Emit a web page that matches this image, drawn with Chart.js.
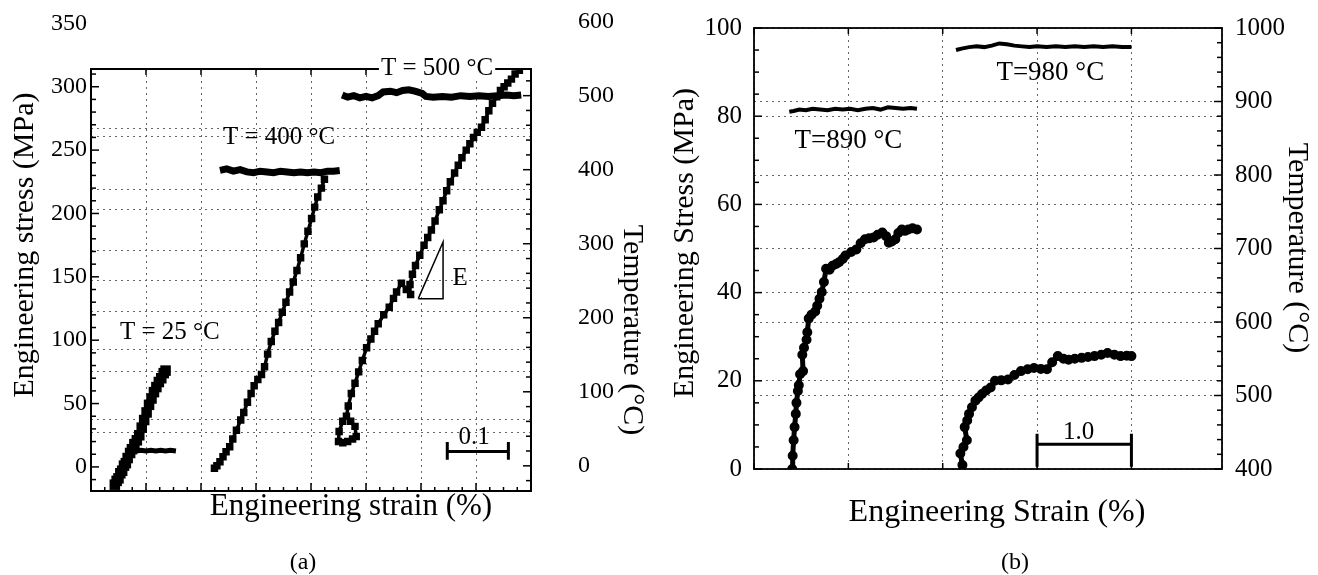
<!DOCTYPE html>
<html><head><meta charset="utf-8">
<script src="https://cdn.jsdelivr.net/npm/chart.js@4.4.1/dist/chart.umd.min.js"></script>
<style>
html,body{margin:0;padding:0;background:#fff;width:1318px;height:575px;overflow:hidden}
canvas{position:absolute;top:0}
#ca{left:0}
#cb{left:660px}
</style></head><body>
<canvas id="ca" width="660" height="575"></canvas>
<canvas id="cb" width="658" height="575"></canvas>
<script>
// ---------- Panel (a) data ----------
const a25Strain = [0.039,0.042,0.045,0.048,0.051,0.054,0.057,0.060,0.064,0.067,0.071,0.075,0.079,0.083,0.087,0.091,0.095,0.099,0.103,0.107,0.111,0.115,0.119,0.122];
const a25Stress = [-14,-11,-9,-5,-3,1,3,7,11,14,18,21,25,31,37,43,49,54,59,63,67,70,74,76];
const a25TStrain = [0.068,0.075,0.082,0.090,0.098,0.106,0.114,0.122,0.130,0.139];
const a25Temp = [21,20,21,20,21,20,21,20,21,20];

const a400Strain = [0.202,0.206,0.211,0.216,0.221,0.227,0.232,0.238,0.245,0.250,0.256,0.262,0.267,0.273,0.279,0.284,0.289,0.295,0.301,0.307,0.313,0.319,0.325,0.331,0.337,0.343,0.349,0.355,0.361,0.366,0.371,0.377,0.382];
const a400Stress = [-1,1,4,8,12,16,22,29,37,43,51,58,64,69,73,79,89,99,107,114,122,130,138,146,155,165,176,186,196,205,213,220,227];
const a400TStrain = [0.211,0.222,0.233,0.244,0.255,0.266,0.277,0.288,0.299,0.310,0.321,0.332,0.343,0.354,0.365,0.376,0.387,0.397,0.407];
const a400Temp = [399,401,398,400,397,396,398,397,396,398,397,396,397,396,397,396,398,398,399];

const a500Strain = [0.412,0.406,0.405,0.412,0.420,0.428,0.434,0.432,0.425,0.418,0.421,0.426,0.432,0.438,0.444,0.451,0.458,0.464,0.470,0.479,0.488,0.495,0.500,0.508,0.516,0.523,0.522,0.526,0.531,0.538,0.545,0.551,0.557,0.563,0.570,0.576,0.582,0.588,0.595,0.601,0.607,0.614,0.620,0.626,0.632,0.639,0.645,0.651,0.657,0.664,0.670,0.676,0.682,0.688,0.694,0.701];
const a500Stress = [36,28,20,19,20,22,24,32,36,40,48,58,66,75,84,94,101,107,113,120,126,133,138,145,140,136,144,152,159,167,175,181,187,194,203,210,218,225,232,238,244,250,255,260,264,268,274,281,287,292,297,300,303,306,310,313];
const a500TStrain = [0.411,0.420,0.430,0.440,0.450,0.460,0.470,0.478,0.490,0.500,0.510,0.520,0.530,0.542,0.548,0.560,0.575,0.590,0.605,0.620,0.635,0.650,0.665,0.680,0.692,0.704];
const a500Temp = [501,498,500,497,499,497,500,505,506,504,507,508,506,503,499,498,499,498,500,499,500,499,500,501,500,501];

const eTriStrain = [0.5355,0.5761,0.5761,0.5355];
const eTriStress = [132.8,177.5,132.8,132.8];
const barAStrain = [0.583,0.583,0.583,0.683,0.683,0.683];
const barAStress = [19.6,5.7,12.2,12.2,19.6,5.7];

const stressTicksA = [0,50,100,150,200,250,300,350];
const tempTicksA = [0,100,200,300,400,500,600];
const stressGridA = [27,75,123,171,219,267];
const tempGridA = [63,157,251,346,445];

// ---------- Panel (b) data ----------
const b890Strain = [0.405,0.41,0.42,0.43,0.443,0.45,0.465,0.475,0.488,0.52,0.512,0.53,0.557,0.565,0.58,0.61,0.649,0.67,0.694,0.718,0.741,0.764,0.80,0.832,0.87,0.901,0.94,0.97,1.03,1.085,1.13,1.176,1.22,1.268,1.31,1.36,1.40,1.429,1.46,1.498,1.53,1.567,1.60,1.636,1.68,1.727];
const b890Stress = [0,3,6.5,9.5,12.5,15,17.7,19,21.5,22.2,25.9,27.5,29.3,31,34.1,35,35.7,37,38.6,40.1,42.4,45.4,45.2,46.1,46.5,46.9,47.6,48.4,49.2,49.8,51.2,52.1,52.3,52.5,53.1,53.6,52.8,51.3,51.6,52.1,53.5,54.3,54,54.3,54.6,54.3];
const b890TStrain = [0.374,0.42,0.48,0.55,0.62,0.70,0.78,0.86,0.94,1.02,1.10,1.18,1.26,1.34,1.42,1.50,1.58,1.66,1.727];
const b890Temp = [886,887,889,888,890,889,888,890,889,890,888,890,891,889,892,891,890,891,890];

const b980Strain = [2.209,2.187,2.22,2.256,2.233,2.26,2.279,2.31,2.347,2.38,2.416,2.46,2.508,2.554,2.62,2.691,2.76,2.829,2.90,2.967,3.04,3.105,3.16,3.22,3.28,3.334,3.40,3.472,3.54,3.609,3.68,3.747,3.82,3.885,3.95,4.0];
const b980Stress = [0.9,3.5,5,6.5,9.5,11,12.5,14,15.5,16.2,17,17.8,18.5,20,20.1,20.3,21.3,22.2,22.6,22.9,22.7,22.6,24.2,25.6,25,24.8,25,25.2,25.4,25.6,25.9,26.3,25.9,25.6,25.7,25.6];
const b980TStrain = [2.141,2.20,2.28,2.36,2.44,2.52,2.60,2.68,2.76,2.84,2.92,3.00,3.10,3.20,3.30,3.40,3.50,3.60,3.70,3.80,3.90,4.00];
const b980Temp = [970,972,974,975,974,976,979,978,976,975,974,975,974,975,974,975,974,975,974,975,974,974];

const barBStrain = [3.0,3.0,3.0,4.0,4.0,4.0];
const barBStress = [8,0.5,5.6,5.6,8,0.5];

const stressTicksB = [0,20,40,60,80,100];
const tempTicksB = [400,500,600,700,800,900,1000];

// ---------- helpers ----------
const SERIF = '"Liberation Serif","Times New Roman",serif';
Chart.defaults.font.family = SERIF;
Chart.defaults.color = '#000';
const pts = (xs, ys) => xs.map((x, i) => ({x: x, y: ys[i]}));
const setTicks = arr => s => { s.ticks = arr.map(v => ({value: v})); };

function makeDeco(cfg) {
  return {
    id: 'deco',
    afterDatasetsDraw(chart) {
      const ctx = chart.ctx, a = chart.chartArea;
      ctx.save();
      ctx.strokeStyle = '#000';
      cfg.ticks.forEach(t => {
        const s = chart.scales[t.axis];
        const k0 = Math.ceil(s.min / t.step - 1e-9), k1 = Math.floor(s.max / t.step + 1e-9);
        ctx.lineWidth = t.width || 1.5;
        for (let k = k0; k <= k1; k++) {
          const v = k * t.step;
          const len = (k % t.major === 0) ? t.majLen : t.minLen;
          const p = s.getPixelForValue(v);
          ctx.beginPath();
          if (t.side === 'left') { ctx.moveTo(a.left, p); ctx.lineTo(a.left + len, p); }
          else if (t.side === 'right') { ctx.moveTo(a.right, p); ctx.lineTo(a.right - len, p); }
          else if (t.side === 'bottom') { ctx.moveTo(p, a.bottom); ctx.lineTo(p, a.bottom - len); }
          else { ctx.moveTo(p, a.top); ctx.lineTo(p, a.top + len); }
          ctx.stroke();
        }
      });
      ctx.lineWidth = cfg.frame;
      ctx.strokeRect(a.left, a.top, a.right - a.left, a.bottom - a.top);
      ctx.textAlign = 'center'; ctx.textBaseline = 'middle';
      cfg.labels.forEach(l => {
        const x = chart.scales.x.getPixelForValue(l.x);
        const y = chart.scales[l.axis || 'y'].getPixelForValue(l.y);
        ctx.font = l.font;
        if (l.bg) {
          const w = ctx.measureText(l.text).width;
          ctx.fillStyle = '#fff';
          ctx.fillRect(x - w / 2 - 2, y - l.bg / 2, w + 4, l.bg);
        }
        ctx.fillStyle = '#000';
        ctx.fillText(l.text, x, y);
      });
      cfg.titles.forEach(t => {
        ctx.save();
        ctx.translate(t.x, t.y);
        ctx.rotate((t.rot || 0) * Math.PI / 180);
        ctx.font = t.font;
        ctx.fillStyle = '#000';
        ctx.fillText(t.text, 0, 0);
        ctx.restore();
      });
      ctx.restore();
    }
  };
}

const gridStyle = {color: '#666', lineWidth: 1, drawTicks: false};
const gridDash = {display: false, dash: [2, 4]};

// ---------- Chart (a) ----------
new Chart(document.getElementById('ca'), {
  type: 'scatter',
  data: {
    datasets: [
      {data: pts(a25TStrain, a25Temp), yAxisID: 'y2', showLine: true, borderColor: '#000', borderWidth: 5, pointRadius: 0},
      {data: pts(a400TStrain, a400Temp), yAxisID: 'y2', showLine: true, borderColor: '#000', borderWidth: 7, pointRadius: 0},
      {data: pts(a500TStrain, a500Temp), yAxisID: 'y2', showLine: true, borderColor: '#000', borderWidth: 7, pointRadius: 0},
      {data: pts(a25Strain, a25Stress), yAxisID: 'y', showLine: true, borderColor: '#000', backgroundColor: '#000', borderWidth: 7, pointRadius: 2.5, pointStyle: 'rect'},
      {data: pts(a400Strain, a400Stress), yAxisID: 'y', showLine: true, borderColor: '#000', backgroundColor: '#000', borderWidth: 3.5, pointRadius: 2.8, pointStyle: 'rect'},
      {data: pts(a500Strain, a500Stress), yAxisID: 'y', showLine: true, borderColor: '#000', backgroundColor: '#000', borderWidth: 3.5, pointRadius: 2.8, pointStyle: 'rect'},
      {data: pts(eTriStrain, eTriStress), yAxisID: 'y', showLine: true, borderColor: '#000', borderWidth: 1.5, pointRadius: 0},
      {data: pts(barAStrain, barAStress), yAxisID: 'y', showLine: true, borderColor: '#000', borderWidth: 3, pointRadius: 0}
    ]
  },
  options: {
    responsive: false, animation: false, devicePixelRatio: 1,
    layout: {padding: {top: 69, left: 0, right: 0, bottom: 0}},
    plugins: {legend: {display: false}, tooltip: {enabled: false}},
    scales: {
      x: {type: 'linear', position: 'bottom', min: 0, max: 0.72,
          ticks: {display: false, stepSize: 0.09},
          grid: gridStyle, border: gridDash,
          afterFit: s => { s.height = 84; }},
      y: {type: 'linear', position: 'left', min: -19, max: 314,
          afterBuildTicks: setTicks(stressTicksA),
          ticks: {autoSkip: false, padding: 4, font: {size: 24}, callback: v => String(v)},
          grid: {display: false, drawTicks: false}, border: {display: false},
          afterFit: s => { s.width = 91; }},
      y2: {type: 'linear', position: 'right', min: -34, max: 536,
          afterBuildTicks: setTicks(tempTicksA),
          ticks: {autoSkip: false, padding: 47, font: {size: 24}, callback: v => String(v)},
          grid: {display: false, drawTicks: false}, border: {display: false},
          afterFit: s => { s.width = 129; }},
      gs: {type: 'linear', position: 'left', min: -19, max: 314,
          afterBuildTicks: setTicks(stressGridA),
          ticks: {display: false}, grid: gridStyle, border: gridDash,
          afterFit: s => { s.width = 0; }},
      gt: {type: 'linear', position: 'right', min: -34, max: 536,
          afterBuildTicks: setTicks(tempGridA),
          ticks: {display: false}, grid: gridStyle, border: gridDash,
          afterFit: s => { s.width = 0; }}
    }
  },
  plugins: [makeDeco({
    frame: 2,
    ticks: [
      {axis: 'y', side: 'left', step: 10, major: 5, majLen: 8, minLen: 5},
      {axis: 'y2', side: 'right', step: 20, major: 5, majLen: 8, minLen: 5},
      {axis: 'x', side: 'bottom', step: 0.0225, major: 4, majLen: 8, minLen: 4},
      {axis: 'x', side: 'top', step: 0.09, major: 1, majLen: 6, minLen: 6}
    ],
    labels: [
      {text: 'T = 25 °C', x: 0.129, y: 106, font: '25px ' + SERIF},
      {text: 'T = 400 °C', x: 0.3077, y: 260, font: '25px ' + SERIF},
      {text: 'T = 500 °C', x: 0.5663, y: 314.5, font: '25px ' + SERIF, bg: 20},
      {text: 'E', x: 0.604, y: 148.6, font: '25px ' + SERIF},
      {text: '0.1', x: 0.627, y: 23.3, font: '25px ' + SERIF}
    ],
    titles: [
      {text: 'Engineering stress (MPa)', x: 25, y: 245, rot: -90, font: '30px ' + SERIF},
      {text: 'Temperature (°C)', x: 632, y: 330, rot: 90, font: '30px ' + SERIF},
      {text: 'Engineering strain (%)', x: 351, y: 507, font: '31px ' + SERIF},
      {text: '(a)', x: 303, y: 563, font: '24px ' + SERIF}
    ]
  })]
});

// ---------- Chart (b) ----------
new Chart(document.getElementById('cb'), {
  type: 'scatter',
  data: {
    datasets: [
      {data: pts(b890TStrain, b890Temp), yAxisID: 'y2', showLine: true, borderColor: '#000', borderWidth: 4, pointRadius: 0},
      {data: pts(b980TStrain, b980Temp), yAxisID: 'y2', showLine: true, borderColor: '#000', borderWidth: 4, pointRadius: 0},
      {data: pts(b890Strain, b890Stress), yAxisID: 'y', showLine: true, borderColor: '#000', backgroundColor: '#000', borderWidth: 5, pointRadius: 2.5},
      {data: pts(b980Strain, b980Stress), yAxisID: 'y', showLine: true, borderColor: '#000', backgroundColor: '#000', borderWidth: 5, pointRadius: 2.5},
      {data: pts(barBStrain, barBStress), yAxisID: 'y', showLine: true, borderColor: '#000', borderWidth: 3, pointRadius: 0}
    ]
  },
  options: {
    responsive: false, animation: false, devicePixelRatio: 1,
    layout: {padding: {top: 23, left: 0, right: 0, bottom: 0}},
    plugins: {legend: {display: false}, tooltip: {enabled: false}},
    scales: {
      x: {type: 'linear', position: 'bottom', min: 0, max: 4.96,
          ticks: {display: false, stepSize: 1},
          grid: gridStyle, border: gridDash,
          afterFit: s => { s.height = 106; }},
      y: {type: 'linear', position: 'left', min: 0, max: 100,
          afterBuildTicks: setTicks(stressTicksB),
          ticks: {autoSkip: false, padding: 12, font: {size: 25}, callback: v => String(v)},
          grid: gridStyle, border: gridDash,
          afterFit: s => { s.width = 94; }},
      y2: {type: 'linear', position: 'right', min: 400, max: 1000,
          afterBuildTicks: setTicks(tempTicksB),
          ticks: {autoSkip: false, padding: 13, font: {size: 25}, callback: v => String(v)},
          grid: gridStyle, border: gridDash,
          afterFit: s => { s.width = 96; }}
    }
  },
  plugins: [makeDeco({
    frame: 1.8,
    ticks: [
      {axis: 'y', side: 'left', step: 5, major: 4, majLen: 8, minLen: 5},
      {axis: 'y2', side: 'right', step: 20, major: 5, majLen: 8, minLen: 5},
      {axis: 'x', side: 'bottom', step: 1, major: 1, majLen: 6, minLen: 6},
      {axis: 'x', side: 'top', step: 1, major: 1, majLen: 6, minLen: 6}
    ],
    labels: [
      {text: 'T=980 °C', x: 3.14, y: 89.9, font: '27px ' + SERIF},
      {text: 'T=890 °C', x: 1.0, y: 74.5, font: '27px ' + SERIF},
      {text: '1.0', x: 3.44, y: 8.3, font: '25px ' + SERIF}
    ],
    titles: [
      {text: 'Engineering Stress (MPa)', x: 25, y: 243, rot: -90, font: '30px ' + SERIF},
      {text: 'Temperature (°C)', x: 637, y: 248, rot: 90, font: '30px ' + SERIF},
      {text: 'Engineering Strain (%)', x: 337, y: 513, font: '32px ' + SERIF},
      {text: '(b)', x: 355, y: 563, font: '24px ' + SERIF}
    ]
  })]
});
</script>
</body></html>
